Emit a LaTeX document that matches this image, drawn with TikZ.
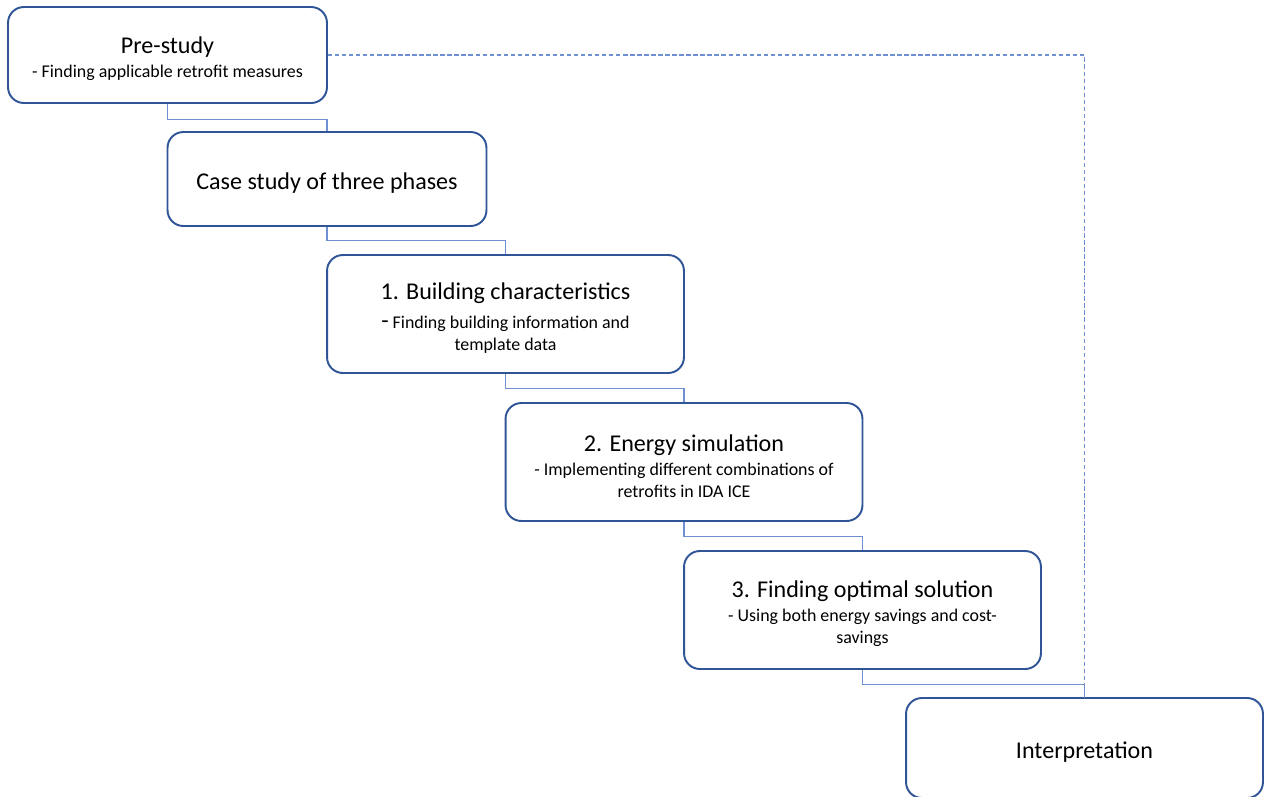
\documentclass[tikz,border=0pt]{standalone}
\usepackage{fontspec}
\setmainfont{Carlito}
\usepackage{tikz}
\usetikzlibrary{arrows.meta,positioning,calc}
\definecolor{frame}{HTML}{2F5597}
\definecolor{wire}{HTML}{6F8FD3}
\tikzset{
  phase/.style={rectangle, rounded corners=9pt, draw=frame, fill=white, line width=1.1pt,
                align=center, inner sep=0pt, minimum width=6.38cm, minimum height=1.92cm,
                font=\fontsize{10.2}{12.5}\selectfont},
  wide/.style={phase, minimum width=7.14cm, minimum height=2.36cm},
  link/.style={draw=wire, line width=0.6pt},
  dashlink/.style={draw=wire, line width=0.6pt, dash pattern=on 2.5pt off 1.5pt}
}
\newcommand{\ttlt}[1]{{\fontsize{13.7}{15}\selectfont\rule{0pt}{14pt}#1}}

\begin{document}
\begin{tikzpicture}[x=0.02cm, y=-0.02cm]
 \useasboundingbox (0,0) rectangle (1265,796);
 \node[phase] (pre) at (167.5,55) {\ttlt{Pre-study}\\[1pt]- Finding applicable retrofit measures};
 \node[phase, minimum height=1.88cm] (case) at (327,179) {\ttlt{Case study of three phases}};
 \node[wide] (chars) at (505.5,314) {\ttlt{1. Building characteristics}\\[4pt]{\fontsize{13.7}{15}\selectfont -} Finding building information and\\template data};
 \node[wide] (sim) at (684,462) {\ttlt{2. Energy simulation}\\[1pt]- Implementing different combinations of\\retrofits in IDA ICE};
 \node[wide] (opt) at (862.5,610) {\ttlt{3. Finding optimal solution}\\[1pt]- Using both energy savings and cost-\\savings};
 \node[wide, minimum height=2cm] (interp) at (1084.5,748) {\ttlt{Interpretation}};
 % elbows between the phases
 \draw[link] (pre.south) -- ++(0,16) -| (case.north);
 \draw[link] (case.south) -- ++(0,14) -| (chars.north);
 \draw[link] (chars.south) -- ++(0,15) -| (sim.north);
 \draw[link] (sim.south) -- ++(0,15) -| (opt.north);
 \draw[link] (opt.south) -- ++(0,15) -| (interp.north);
 \draw[dashlink] (pre.east) -| (interp.north);
\end{tikzpicture}
\end{document}
